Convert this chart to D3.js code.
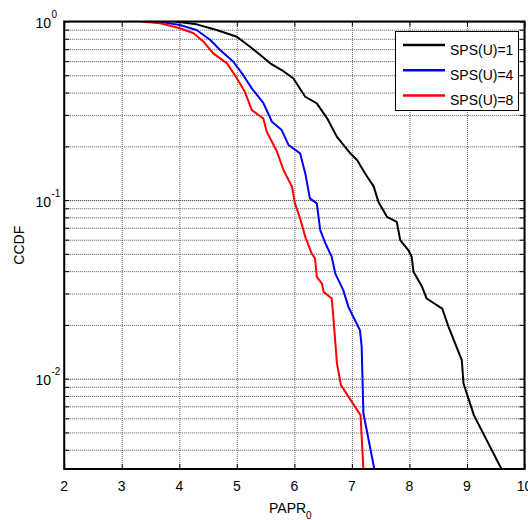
<!DOCTYPE html>
<html>
<head>
<meta charset="utf-8">
<script src="https://cdn.jsdelivr.net/npm/d3@7"></script>
<style>
  body { margin: 0; background: #fff; }
  text { font-family: "Liberation Sans", Arial, sans-serif; }
</style>
</head>
<body>
<div id="chart"></div>
<script>
// data (PAPR0 in dB, CCDF)
const papr1 = [3.93, 4.30, 4.65, 5.00, 5.23, 5.41, 5.58, 5.78, 5.98, 6.19, 6.39, 6.57, 6.74, 6.97, 7.09, 7.23, 7.38, 7.46, 7.61, 7.78, 7.84, 7.98, 8.04, 8.07, 8.22, 8.30, 8.57, 8.68, 8.91, 8.94, 9.12, 9.60];
const ccdf1 = [1, 0.964, 0.896, 0.822, 0.722, 0.649, 0.583, 0.535, 0.481, 0.379, 0.348, 0.287, 0.226, 0.183, 0.1675, 0.141, 0.119, 0.098, 0.0806, 0.0756, 0.0597, 0.0525, 0.0481, 0.0397, 0.0327, 0.0281, 0.0247, 0.0195, 0.0127, 0.0094, 0.00625, 0.00312];

const papr4 = [3.58, 3.72, 4.01, 4.30, 4.54, 4.71, 4.94, 5.11, 5.26, 5.46, 5.61, 5.78, 5.90, 6.10, 6.19, 6.27, 6.39, 6.45, 6.54, 6.65, 6.71, 6.85, 6.94, 7.14, 7.17, 7.20, 7.39];
const ccdf4 = [1, 0.99, 0.956, 0.896, 0.788, 0.692, 0.595, 0.502, 0.422, 0.350, 0.2746, 0.2467, 0.2033, 0.1827, 0.1411, 0.1022, 0.0958, 0.0679, 0.0572, 0.0481, 0.0389, 0.0313, 0.0252, 0.0187, 0.0151, 0.0064, 0.00312];

const papr8 = [3.32, 3.67, 4.01, 4.25, 4.42, 4.59, 4.83, 5.00, 5.14, 5.26, 5.46, 5.52, 5.70, 5.81, 5.96, 6.01, 6.10, 6.19, 6.30, 6.36, 6.39, 6.48, 6.51, 6.65, 6.68, 6.74, 6.81, 7.15, 7.20];
const ccdf8 = [1, 0.977, 0.916, 0.859, 0.771, 0.663, 0.583, 0.481, 0.404, 0.319, 0.287, 0.2413, 0.1865, 0.1473, 0.1187, 0.0958, 0.0790, 0.0623, 0.0503, 0.0471, 0.0372, 0.0341, 0.0306, 0.0281, 0.0217, 0.0122, 0.0092, 0.00625, 0.00312];

const seriesNames = ["SPS(U)=1", "SPS(U)=4", "SPS(U)=8"];
const seriesColors = ["#000000", "#0000ff", "#ff0000"];

const xTicks = [2, 3, 4, 5, 6, 7, 8, 9, 10];
const yDecades = [1, 0.1, 0.01];
const yExponents = ["0", "-1", "-2"];

const width = 528, height = 520;
const pLeft = 64.2, pRight = 524.5, pTop = 21.5, pBottom = 469;

let svg = d3.select("#chart")
    .append("svg")
    .attr("width", width)
    .attr("height", height);

let x = d3.scaleLinear().domain([2, 10]).range([pLeft, pRight]);
let y = d3.scaleLog().domain([0.00312, 1]).range([pBottom, pTop]);

// minor values for the log grid: k * 10^d
let yMinor = [];
[0.001, 0.01, 0.1].forEach(function(d) {
    for (let k = 1; k <= 9; k++) {
        let v = +(k * d).toPrecision(3);
        if (v >= y.domain()[0] && v <= 1) yMinor.push(v);
    }
});
yMinor.push(1);

// grid
let grid = svg.append("g");
grid.append("g")
    .attr("transform", `translate(0, ${pBottom})`)
    .call(d3.axisBottom(x).tickValues(xTicks).tickSize(-(pBottom - pTop)).tickFormat(""))
    .call(g => g.select(".domain").remove())
    .selectAll("line")
    .attr("stroke", "#6a6a6a")
    .attr("stroke-dasharray", "1,1");

grid.append("g")
    .attr("transform", `translate(${pLeft}, 0)`)
    .call(d3.axisLeft(y).tickValues(yMinor).tickSize(-(pRight - pLeft)).tickFormat(""))
    .call(g => g.select(".domain").remove())
    .selectAll("line")
    .attr("stroke", function(d) { return yDecades.indexOf(d) >= 0 ? "#222" : "#555"; })
    .attr("stroke-dasharray", "1,1");

// curves
svg.append("clipPath").attr("id", "clip")
    .append("rect")
    .attr("x", pLeft).attr("y", pTop)
    .attr("width", pRight - pLeft).attr("height", pBottom - pTop);

let line = d3.line()
    .x(function(d) { return x(d[0]); })
    .y(function(d) { return y(d[1]); });

let series = [
    d3.zip(papr1, ccdf1),
    d3.zip(papr4, ccdf4),
    d3.zip(papr8, ccdf8)
];

svg.append("g")
    .attr("clip-path", "url(#clip)")
    .selectAll("path")
    .data(series)
    .enter()
    .append("path")
    .attr("d", line)
    .attr("fill", "none")
    .attr("stroke", function(d, i) { return seriesColors[i]; })
    .attr("stroke-width", 2)
    .attr("stroke-linejoin", "round");

// inner tick marks on all four sides
function tickStyle(g) {
    g.select(".domain").remove();
    g.selectAll("line").attr("stroke", "#000").attr("stroke-width", 1);
}
svg.append("g").attr("transform", `translate(0, ${pBottom})`)
    .call(d3.axisBottom(x).tickValues(xTicks).tickSize(-5).tickFormat(""))
    .call(tickStyle);
svg.append("g").attr("transform", `translate(0, ${pTop})`)
    .call(d3.axisTop(x).tickValues(xTicks).tickSize(-5).tickFormat(""))
    .call(tickStyle);
svg.append("g").attr("transform", `translate(${pLeft}, 0)`)
    .call(d3.axisLeft(y).tickValues(yMinor).tickSize(-5).tickFormat(""))
    .call(tickStyle);
svg.append("g").attr("transform", `translate(${pRight}, 0)`)
    .call(d3.axisRight(y).tickValues(yMinor).tickSize(-5).tickFormat(""))
    .call(tickStyle);

// box
svg.append("rect")
    .attr("x", pLeft).attr("y", pTop)
    .attr("width", pRight - pLeft).attr("height", pBottom - pTop)
    .attr("fill", "none")
    .attr("stroke", "#000")
    .attr("stroke-width", 2);

// x tick labels
svg.append("g")
    .selectAll("text")
    .data(xTicks)
    .enter()
    .append("text")
    .attr("x", function(d) { return x(d); })
    .attr("y", pBottom + 22)
    .attr("text-anchor", "middle")
    .style("font-size", "14px")
    .text(function(d) { return d; });

// y tick labels 10^n
let yl = svg.append("g")
    .selectAll("g")
    .data(yDecades)
    .enter()
    .append("g");
yl.append("text")
    .attr("x", 51)
    .attr("y", function(d) { return y(d) + 6.5; })
    .attr("text-anchor", "end")
    .style("font-size", "14px")
    .text("10");
yl.append("text")
    .attr("x", 51.5)
    .attr("y", function(d) { return y(d) - 3.5; })
    .style("font-size", "10px")
    .text(function(d, i) { return yExponents[i]; });

// axis labels
let xl = svg.append("text")
    .attr("x", (pLeft + pRight) / 2 - 4)
    .attr("y", 513)
    .attr("text-anchor", "middle")
    .style("font-size", "14px");
xl.append("tspan").text("PAPR");
xl.append("tspan").attr("dy", 6).style("font-size", "10px").text("0");

svg.append("text")
    .attr("transform", `translate(24, ${(pTop + pBottom) / 2}) rotate(-90)`)
    .attr("text-anchor", "middle")
    .style("font-size", "14px")
    .text("CCDF");

// legend
let legend = svg.append("g");
legend.append("rect")
    .attr("x", 395.5).attr("y", 31.5)
    .attr("width", 123).attr("height", 79)
    .attr("fill", "#fff")
    .attr("stroke", "#000")
    .attr("stroke-width", 1);

let items = legend.selectAll("g.item")
    .data(seriesNames)
    .enter()
    .append("g")
    .attr("class", "item")
    .attr("transform", function(d, i) { return `translate(0, ${45 + i * 25.3})`; });
items.append("line")
    .attr("x1", 403).attr("x2", 445)
    .attr("stroke", function(d, i) { return seriesColors[i]; })
    .attr("stroke-width", 2.5);
items.append("text")
    .attr("x", 450)
    .attr("y", 9.5)
    .style("font-size", "14px")
    .text(function(d) { return d; });
</script>
</body>
</html>
